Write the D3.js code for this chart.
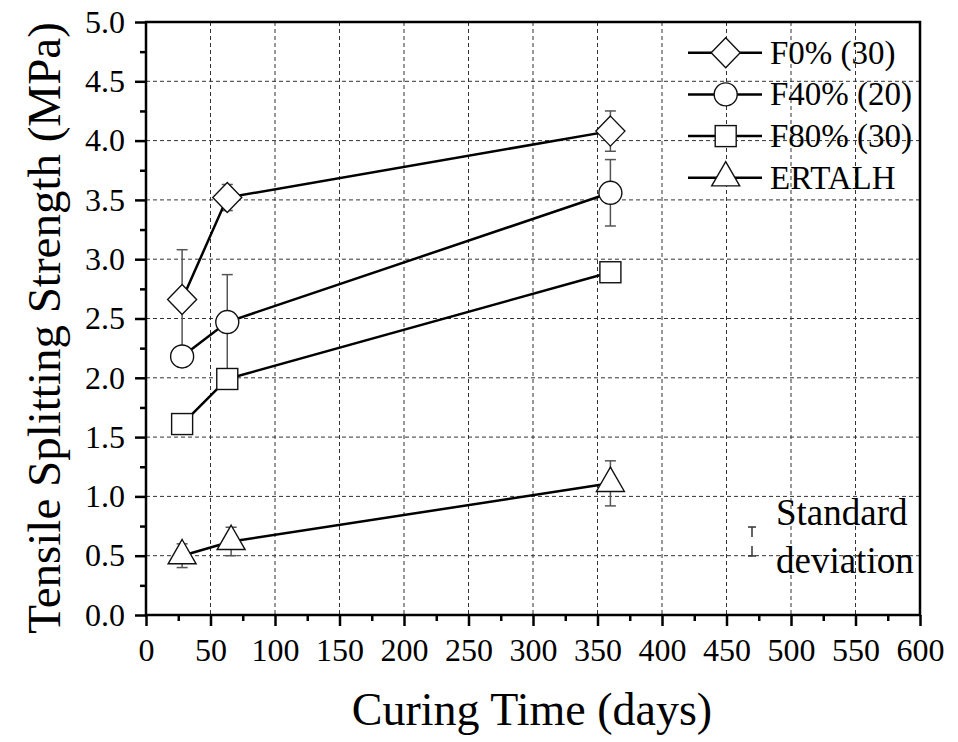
<!DOCTYPE html>
<html>
<head>
<meta charset="utf-8">
<script src="https://cdn.jsdelivr.net/npm/d3@7"></script>
<style>
  body { margin: 0; background: #fff; }
</style>
</head>
<body>
<div id="chart"></div>
<script>
// curing ages (days)
var days = [28, 63, 360];
var daysErtalh = [28, 66, 360];

// mean tensile splitting strength (MPa) and standard deviation
var f0 = [2.66, 3.52, 4.08];
var f0Err = [0.42, 0.11, 0.17];
var f40 = [2.18, 2.47, 3.56];
var f40Err = [0.08, 0.40, 0.28];
var f80 = [1.61, 1.99, 2.89];
var f80Err = [0.05, 0.05, 0.05];
var ertalh = [0.50, 0.62, 1.11];
var ertalhErr = [0.10, 0.12, 0.19];

var seriesNames = ["F0% (30)", "F40% (20)", "F80% (30)", "ERTALH"];
var seriesSymbols = ["diamond", "circle", "square", "triangle"];

var xTicks = d3.range(0, 601, 50);
var xMinor = d3.range(25, 600, 50);
var yTicks = d3.range(0, 5.01, 0.5);
var yMinor = d3.range(0.25, 5, 0.5);

var series = [
    { name: seriesNames[0], sym: seriesSymbols[0], x: days, y: f0, err: f0Err },
    { name: seriesNames[1], sym: seriesSymbols[1], x: days, y: f40, err: f40Err },
    { name: seriesNames[2], sym: seriesSymbols[2], x: days, y: f80, err: f80Err },
    { name: seriesNames[3], sym: seriesSymbols[3], x: daysErtalh, y: ertalh, err: ertalhErr }
];

var FONT = "'Liberation Serif', 'Times New Roman', serif";

var W = 958, H = 742;
var margin = { top: 22, right: 38, bottom: 127, left: 146 };
var width = W - margin.left - margin.right,
    height = H - margin.top - margin.bottom;

var svg = d3.select("#chart").append("svg")
    .attr("width", W)
    .attr("height", H)
    .attr("font-family", FONT);

var g = svg.append("g")
    .attr("transform", "translate(" + margin.left + "," + margin.top + ")");

var x = d3.scaleLinear().domain([0, 600]).range([0, width]);
var y = d3.scaleLinear().domain([0, 5]).range([height, 0]);

// dashed grid at the major ticks
g.append("g").selectAll("line")
    .data(xTicks.slice(1, -1))
    .enter().append("line")
    .attr("x1", function (d) { return x(d); })
    .attr("x2", function (d) { return x(d); })
    .attr("y1", 0).attr("y2", height)
    .attr("stroke", "#333").attr("stroke-width", 1)
    .attr("stroke-dasharray", "4,3");

g.append("g").selectAll("line")
    .data(yTicks.slice(1, -1))
    .enter().append("line")
    .attr("y1", function (d) { return y(d); })
    .attr("y2", function (d) { return y(d); })
    .attr("x1", 0).attr("x2", width)
    .attr("stroke", "#333").attr("stroke-width", 1)
    .attr("stroke-dasharray", "4,3");

// axes
var fmtY = d3.format(".1f");

var xAxis = g.append("g")
    .attr("transform", "translate(0," + height + ")")
    .call(d3.axisBottom(x).tickValues(xTicks).tickSize(11).tickPadding(12).tickFormat(d3.format("d")));

var xAxisMinor = g.append("g")
    .attr("transform", "translate(0," + height + ")")
    .call(d3.axisBottom(x).tickValues(xMinor).tickSize(6).tickFormat(""));

var yAxis = g.append("g")
    .call(d3.axisLeft(y).tickValues(yTicks).tickSize(11).tickPadding(10).tickFormat(fmtY));

var yAxisMinor = g.append("g")
    .call(d3.axisLeft(y).tickValues(yMinor).tickSize(6).tickFormat(""));

[xAxis, xAxisMinor, yAxis, yAxisMinor].forEach(function (a) {
    a.attr("font-family", FONT).attr("font-size", 32);
    a.select(".domain").remove();
    a.selectAll("line").attr("stroke", "#000").attr("stroke-width", 2.5);
    a.selectAll("text").attr("fill", "#000");
});

// frame
g.append("rect")
    .attr("width", width).attr("height", height)
    .attr("fill", "none").attr("stroke", "#000").attr("stroke-width", 2.5);

// symbol shapes
var drawSymbol = function (sel, sym) {
    if (sym === "circle") {
        sel.append("circle").attr("r", 11.5);
    } else if (sym === "diamond") {
        sel.append("path").attr("d", "M0,-15L14.5,0L0,15L-14.5,0Z");
    } else if (sym === "square") {
        sel.append("rect").attr("x", -10.5).attr("y", -10.5).attr("width", 21).attr("height", 21);
    } else {
        sel.append("path").attr("d", "M0,-16.2L14,8.1L-14,8.1Z");
    }
    sel.selectAll("circle,path,rect")
        .attr("fill", "#fff").attr("stroke", "#111").attr("stroke-width", 1.4);
};

var line = d3.line()
    .x(function (d) { return x(d[0]); })
    .y(function (d) { return y(d[1]); });

series.forEach(function (s) {
    var pts = s.x.map(function (d, i) { return [d, s.y[i], s.err[i]]; });

    // error bars
    var eb = g.append("g").attr("stroke", "#555").attr("stroke-width", 1.5);
    pts.forEach(function (p) {
        var cx = x(p[0]), top = y(p[1] + p[2]), bot = y(p[1] - p[2]);
        eb.append("line").attr("x1", cx).attr("x2", cx).attr("y1", top).attr("y2", bot);
        eb.append("line").attr("x1", cx - 5.5).attr("x2", cx + 5.5).attr("y1", top).attr("y2", top);
        eb.append("line").attr("x1", cx - 5.5).attr("x2", cx + 5.5).attr("y1", bot).attr("y2", bot);
    });

    g.append("path")
        .datum(pts)
        .attr("d", line)
        .attr("fill", "none").attr("stroke", "#000").attr("stroke-width", 2.5);

    pts.forEach(function (p) {
        var m = g.append("g").attr("transform", "translate(" + x(p[0]) + "," + y(p[1]) + ")");
        drawSymbol(m, s.sym);
    });
});

// legend
var legend = svg.append("g");
series.forEach(function (s, i) {
    var ly = 52.7 + i * 41.7;
    legend.append("line")
        .attr("x1", 688).attr("x2", 762).attr("y1", ly).attr("y2", ly)
        .attr("stroke", "#000").attr("stroke-width", 2.5);
    var m = legend.append("g").attr("transform", "translate(725.7," + ly + ")");
    drawSymbol(m, s.sym);
    legend.append("text")
        .attr("x", 770).attr("y", ly + 11)
        .attr("font-size", 33)
        .text(s.name);
});

// standard deviation key
var sd = svg.append("g").attr("stroke", "#333").attr("stroke-width", 1.5);
sd.append("line").attr("x1", 748).attr("x2", 756).attr("y1", 527).attr("y2", 527);
sd.append("line").attr("x1", 752).attr("x2", 752).attr("y1", 527).attr("y2", 537);
sd.append("line").attr("x1", 752).attr("x2", 752).attr("y1", 546).attr("y2", 556);
sd.append("line").attr("x1", 748).attr("x2", 756).attr("y1", 556).attr("y2", 556);
svg.append("text").attr("x", 776).attr("y", 525).attr("font-size", 37).text("Standard");
svg.append("text").attr("x", 776).attr("y", 573).attr("font-size", 37).text("deviation");

// axis titles
svg.append("text")
    .attr("transform", "translate(532,725)")
    .attr("text-anchor", "middle")
    .attr("font-size", 46)
    .text("Curing Time (days)");

svg.append("text")
    .attr("transform", "translate(60,328) rotate(-90)")
    .attr("text-anchor", "middle")
    .attr("font-size", 47)
    .text("Tensile Splitting Strength (MPa)");
</script>
</body>
</html>
